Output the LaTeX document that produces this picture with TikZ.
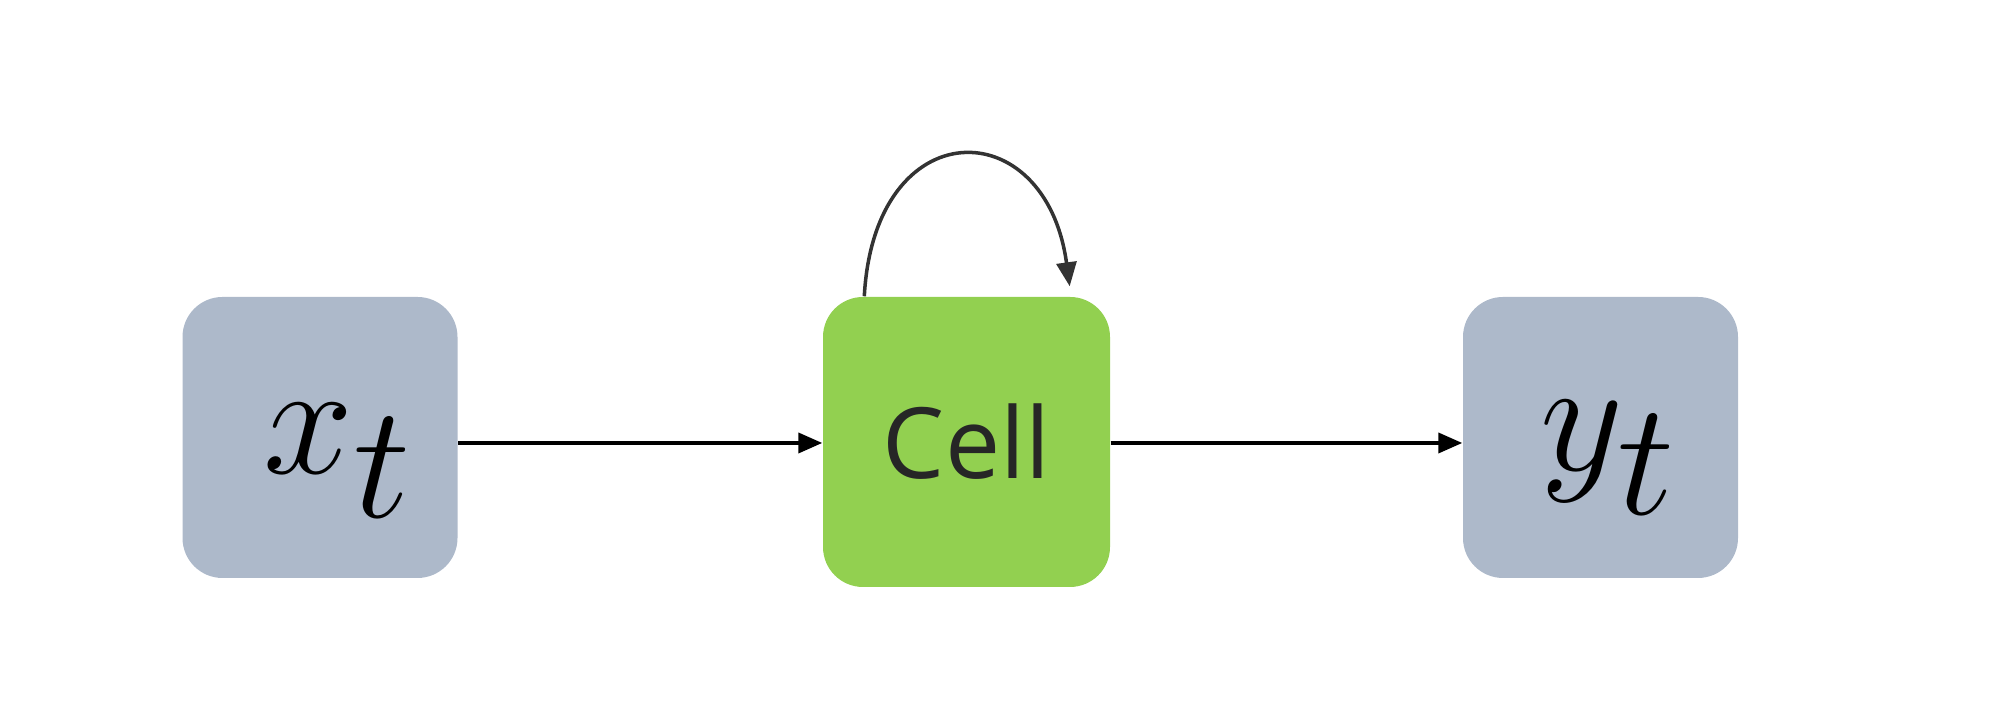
\RequirePackage{fix-cm}
\documentclass[tikz,border=0pt]{standalone}
\usepackage{fontspec}
\setsansfont{Open Sans}
\usetikzlibrary{arrows.meta,calc}

\definecolor{iobox}{HTML}{ADB9CA}
\definecolor{cellbox}{HTML}{92D050}

\tikzset{
	iostyle/.style={fill=iobox, rounded corners=0.4cm, minimum width=2.75cm, minimum height=2.81cm, inner sep=0pt},
	cellstyle/.style={fill=cellbox, rounded corners=0.4cm, minimum width=2.87cm, minimum height=2.9cm, inner sep=0pt},
	flow/.style={-{Triangle[length=0.24cm, width=0.2cm]}, line width=1.1pt}
}

\begin{document}
\begin{tikzpicture}
			\useasboundingbox (0,0) rectangle (20,7.17);
			% BOXES
			\node[iostyle] (xin) at (3.2, 2.795) {\fontsize{46}{54}\selectfont\raisebox{-0.36cm}[0pt][0pt]{\hspace{0.36cm}$x_{\textstyle t}$}}; % input
			\node[cellstyle] (cell) at (9.665, 2.75) {\fontsize{28}{34}\selectfont\sffamily\color{black!85}Cell}; % cell
			\node[iostyle] (yout) at (16.005, 2.795) {\fontsize{46}{54}\selectfont\raisebox{-0.33cm}[0pt][0pt]{\hspace{0.16cm}$y_{\textstyle t}$}}; % output
			
			% DRAW ARROWS
			\path[draw, flow] (xin.east |- 0,2.74)--(cell.west |- 0,2.74);
			\path[draw, flow] (cell.east |- 0,2.74)--(yout.west |- 0,2.74);
			
			% DRAW LOOP
			\coordinate (loopa) at ($(cell.north west)+(0.42,0)$);
			\coordinate (loopb) at ($(cell.north east)+(-0.41,0.1)$);
			\path[draw, flow, black!80, line width=1pt] (loopa) .. controls ($(loopa)+(0.1,1.86)$) and ($(loopb)+(-0.24,1.76)$) .. (loopb);
		\end{tikzpicture}
\end{document}
